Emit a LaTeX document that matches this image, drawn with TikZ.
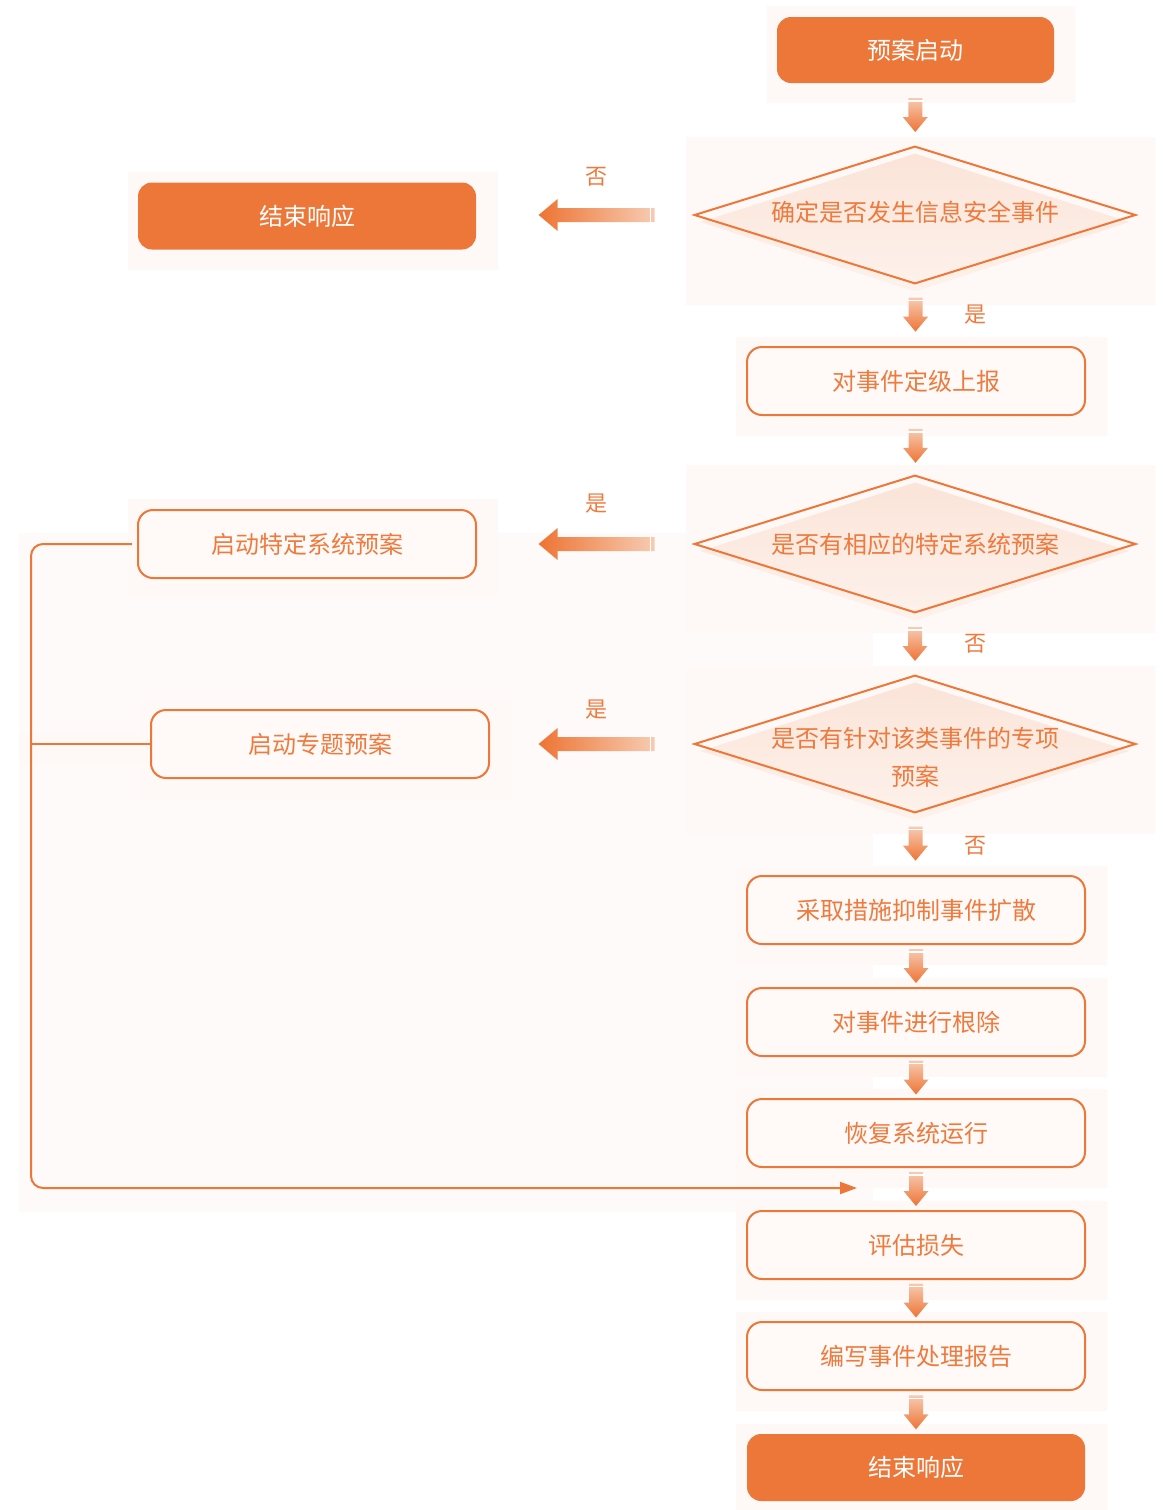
\documentclass[tikz,border=0pt]{standalone}
\usepackage{fontspec}
\setmainfont{Noto Sans CJK SC}
\usetikzlibrary{shapes.geometric,calc,arrows.meta}
\definecolor{org}{HTML}{ED7739}
\definecolor{orgtxt}{HTML}{EE7A3E}
\definecolor{alight}{HTML}{F7CBB2}
\definecolor{adark}{HTML}{EE7434}
\definecolor{faint}{HTML}{FEF9F7}
\definecolor{fainter}{HTML}{FEFAF9}
\definecolor{diafillA}{HTML}{FBE4D8}
\definecolor{diafillB}{HTML}{FDF2EC}
\definecolor{boxfill}{HTML}{FFFAF8}
\pgfdeclarelayer{bg}
\pgfsetlayers{bg,main}
\newcommand{\dnarrow}[2]{%
  \coordinate (tmpc) at ($(#1.south)!0.5!(#2.north)$);
  \shade[top color=alight, bottom color=adark]
    ($(tmpc)+(-7,-17)$) -- ($(tmpc)+(7,-17)$) -- ($(tmpc)+(7,2)$) -- ($(tmpc)+(12.5,2)$)
    -- ($(tmpc)+(0,17)$) -- ($(tmpc)+(-12.5,2)$) -- ($(tmpc)+(-7,2)$) -- cycle;
  \draw[white, line width=0.7pt] ($(tmpc)+(-9,-14)$) -- ($(tmpc)+(9,-14)$);}
\newcommand{\lfarrow}[1]{%
  \coordinate (tmpt) at ($(#1.west)+(-40,0)$);
  \coordinate (tmph) at ($(#1.west)+(-156,0)$);
  \shade[left color=adark, right color=alight]
    ($(tmpt)+(0,-7)$) -- ($(tmph)+(19,-7)$) -- ($(tmph)+(19,-16)$) -- (tmph)
    -- ($(tmph)+(19,16)$) -- ($(tmph)+(19,7)$) -- ($(tmpt)+(0,7)$) -- cycle;
  \draw[white, line width=0.7pt] ($(tmpt)+(-4,-9)$) -- ($(tmpt)+(-4,9)$);}
\newcommand{\diafill}[1]{%
  \shade[top color=diafillA, bottom color=diafillB]
    ($(#1.north)+(0,7)$) -- ($(#1.east)+(-6,7)$) -- ($(#1.south)+(0,8)$) -- ($(#1.west)+(6,7)$) -- cycle;
  \draw[org, line width=1pt, line join=miter] (#1.north) -- (#1.east) -- (#1.south) -- (#1.west) -- cycle;}
\begin{document}
\begin{tikzpicture}[x=0.5pt,y=-0.5pt,
  solidbox/.style={rectangle, rounded corners=7pt, fill=org, text=white, minimum width=169pt, minimum height=33.5pt, inner sep=0pt, font=\fontsize{12}{14}\selectfont},
  linebox/.style={rectangle, rounded corners=7.5pt, draw=org, line width=1pt, fill=boxfill, text=orgtxt, minimum width=169pt, minimum height=34pt, inner sep=0pt, font=\fontsize{12}{14}\selectfont},
  diam/.style={diamond, minimum width=220pt, minimum height=68pt, inner sep=0pt, aspect=3.2},
  dtext/.style={text=orgtxt, font=\fontsize{12}{19}\selectfont, align=center},
  lbl/.style={text=orgtxt, font=\fontsize{11}{13}\selectfont},
  faintbg/.style={fill=faint},
  looppath/.style={draw=org, line width=1pt, rounded corners=6pt},
]
\useasboundingbox (0,0) rectangle (1162,1510);
% faint backgrounds
\fill[fainter] (19,533) rectangle (873,1212);
\fill[faintbg] (20,733) rectangle (168,765);
\fill[faintbg] (767,6) rectangle (1075,103);
\fill[faintbg] (686,137) rectangle (1155,305);
\fill[faintbg] (128,172) rectangle (498,270);
\fill[faintbg] (736,337) rectangle (1107,436);
\fill[faintbg] (686,465) rectangle (1155,633);
\fill[faintbg] (128,499) rectangle (498,598);
\fill[faintbg] (686,666) rectangle (1155,834);
\fill[faintbg] (140,700) rectangle (511,800);
\fill[faintbg] (736,866) rectangle (1107,965);
\fill[faintbg] (736,978) rectangle (1107,1077);
\fill[faintbg] (736,1089) rectangle (1107,1188);
\fill[faintbg] (736,1201) rectangle (1107,1300);
\fill[faintbg] (736,1312) rectangle (1107,1411);
\fill[faintbg] (736,1424) rectangle (1107,1510);

% main column
\node[solidbox, minimum width=138.5pt, minimum height=33pt] (start) at (915.5,50) {预案启动};
\node[diam] (d1) at (915,215) {};
\diafill{d1}
\node[dtext] (d1t) at (915,212) {确定是否发生信息安全事件};
\node[linebox] (b1) at (916,381) {对事件定级上报};
\node[diam] (d2) at (915,544) {};
\diafill{d2}
\node[dtext] (d2t) at (915,544) {是否有相应的特定系统预案};
\node[diam] (d3) at (915,744) {};
\diafill{d3}
\node[dtext] (d3t) at (915,757) {是否有针对该类事件的专项\\预案};
\node[linebox] (b2) at (916,910) {采取措施抑制事件扩散};
\node[linebox] (b3) at (916,1022) {对事件进行根除};
\node[linebox] (b4) at (916,1133) {恢复系统运行};
\node[linebox] (b5) at (916,1245) {评估损失};
\node[linebox] (b6) at (916,1356) {编写事件处理报告};
\node[solidbox] (endr) at (916,1467.5) {结束响应};

% left column
\node[solidbox] (endl) at (307,216) {结束响应};
\node[linebox] (l1) at (307,544) {启动特定系统预案};
\node[linebox] (l2) at (320,744) {启动专题预案};

% down arrows
\dnarrow{start}{d1}
\dnarrow{d1}{b1}
\dnarrow{b1}{d2}
\dnarrow{d2}{d3}
\dnarrow{d3}{b2}
\dnarrow{b2}{b3}
\dnarrow{b3}{b4}
\dnarrow{b4}{b5}
\dnarrow{b5}{b6}
\dnarrow{b6}{endr}

% left arrows
\lfarrow{d1}
\lfarrow{d2}
\lfarrow{d3}

% labels
\node[lbl] (n1) at ($(d1.west)+(-98,-38)$) {否};
\node[lbl] (y1) at ($(d1.south)!0.5!(b1.north)+(60,0)$) {是};
\node[lbl] (y2) at ($(d2.west)+(-98,-40)$) {是};
\node[lbl] (n2) at ($(d2.south)!0.5!(d3.north)+(60,0)$) {否};
\node[lbl] (y3) at ($(d3.west)+(-98,-34)$) {是};
\node[lbl] (n3) at ($(d3.south)!0.5!(b2.north)+(60,2)$) {否};

% loop back line
\coordinate (lx) at (31,0);
\coordinate (loopend) at (857,1188);
\draw[looppath, -{Triangle[length=8.5pt,width=6pt]}] ($(l1.west)+(-5,0)$) -- (l1.west -| lx) -- (lx |- loopend) -- (loopend);
\draw[org, line width=1pt] (l2.west) -- (l2.west -| lx);
\end{tikzpicture}
\end{document}
